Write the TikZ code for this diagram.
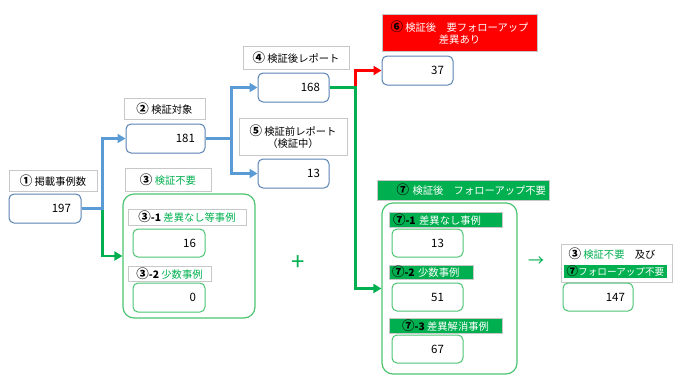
\documentclass[tikz,border=0pt]{standalone}
\usepackage{fontspec}
\setmainfont{Noto Sans CJK JP}
\usetikzlibrary{arrows.meta,calc}
\definecolor{lblgray}{HTML}{C8C8C8}
\definecolor{bxblue}{HTML}{5A82B4}
\definecolor{arblue}{HTML}{5B9BD5}
\definecolor{bxgreen}{HTML}{4CC472}
\definecolor{argreen}{HTML}{00B050}
\definecolor{txgreen}{HTML}{00B050}
\definecolor{bnred}{HTML}{FF0000}
\newcommand{\cnum}[1]{{\fontsize{12.5}{12}\selectfont\bfseries #1}}
\newcommand{\cnums}[1]{{\fontsize{11.5}{12}\selectfont\bfseries #1}}
\tikzset{
  lbl/.style={draw=lblgray, fill=white, line width=0.8pt, inner sep=0pt, font=\fontsize{10.3}{12}\selectfont, align=center},
  numbox/.style={rounded corners=5pt, fill=white, line width=1pt, inner sep=0pt, inner xsep=9pt, font=\fontsize{11.5}{13}\selectfont, align=right},
  numblue/.style={numbox, draw=bxblue},
  numgreen/.style={numbox, draw=bxgreen},
  bigbox/.style={draw=bxgreen, line width=1.2pt, rounded corners=11pt, inner sep=0pt},
  gbanner/.style={draw=lblgray, fill=argreen, text=white, line width=0.6pt, inner sep=0pt, font=\fontsize{10.3}{12}\selectfont},
  arb/.style={draw=arblue, line width=3pt, -{Triangle[length=8pt,width=9pt]}},
  arg/.style={draw=argreen, line width=2.6pt, -{Triangle[length=8pt,width=9pt]}},
  arr/.style={draw=bnred, line width=2.6pt, -{Triangle[length=8pt,width=9pt]}},
}
\begin{document}
\begin{tikzpicture}[x=1pt,y=-1pt]
\useasboundingbox (0,0) rectangle (680,389);
% label boxes
\node[lbl, minimum width=88pt, minimum height=21pt] (L1) at (53,180.5) {\cnum{①} 掲載事例数};
\node[lbl, minimum width=81pt, minimum height=21pt] (L2) at (164.5,108.5) {\cnum{②} 検証対象};
\node[lbl, minimum width=86pt, minimum height=23pt] (L3) at (168,179.5) {\cnum{③} \textcolor{txgreen}{検証不要}};
\node[lbl, minimum width=106pt, minimum height=23pt] (L4) at (296,57.5) {\cnum{④} 検証後レポート};
\node[lbl, minimum width=108pt, minimum height=37pt] (L5) at (293,136.5) {\cnum{⑤} 検証前レポート\\（検証中）};
\node[lbl, fill=bnred, text=white, minimum width=155pt, minimum height=37pt] (R6) at (459.5,32.5) {\textcolor{black}{\cnum{⑥}} 検証後　要フォローアップ\\差異あり};
\node[gbanner, minimum width=172pt, minimum height=20pt, text width=166pt, align=right] (G7) at (463,190) {\textcolor{black}{\cnum{⑦}} 検証後　フォローアップ不要};
% number boxes
\node[numblue, minimum width=72pt, minimum height=29pt, text width=52pt] (n197) at (45,208.5) {197};
\node[numblue, minimum width=79pt, minimum height=29pt, text width=59pt] (n181) at (165.5,138.5) {181};
\node[numblue, minimum width=71pt, minimum height=29pt, text width=53pt] (n168) at (293.5,87.5) {168};
\node[numblue, minimum width=71pt, minimum height=29pt, text width=53pt] (n13a) at (293.5,173.5) {13};
\node[numblue, minimum width=71pt, minimum height=29pt, text width=53pt] (n37) at (417.5,70.5) {37};
% group 3
\node[bigbox, minimum width=132pt, minimum height=124pt] (box3) at (189,256) {};
\node[lbl, minimum width=118pt, minimum height=16pt] (L31) at (187,217) {\cnum{③}{\bfseries -1} \textcolor{txgreen}{差異なし等事例}};
\node[numgreen, minimum width=72pt, minimum height=28pt, text width=54pt] (n16) at (169,243) {16};
\node[lbl, minimum width=83pt, minimum height=15pt] (L32) at (169.5,273.5) {\cnum{③}{\bfseries -2} \textcolor{txgreen}{少数事例}};
\node[numgreen, minimum width=72pt, minimum height=29pt, text width=54pt] (n0) at (169,297.5) {0};
% group 7
\node[bigbox, minimum width=135pt, minimum height=171pt] (box7) at (449.5,288.5) {};
\node[gbanner, minimum width=113pt, minimum height=15pt, text width=105pt, align=left] (G71) at (445.5,219.5) {\textcolor{black}{\cnum{⑦}\bfseries -1} 差異なし事例};
\node[numgreen, minimum width=71pt, minimum height=28pt, text width=33pt, inner xsep=19pt] (n13b) at (427.5,243) {13};
\node[gbanner, minimum width=84pt, minimum height=14pt, text width=78pt, align=left] (G72) at (431,272) {\textcolor{black}{\cnum{⑦}\bfseries -2} 少数事例};
\node[numgreen, minimum width=71pt, minimum height=28pt, text width=33pt, inner xsep=19pt] (n51) at (427.5,297) {51};
\node[gbanner, minimum width=113pt, minimum height=15pt, align=center] (G73) at (445.5,325.5) {\textcolor{black}{\cnum{⑦}\bfseries -3} 差異解消事例};
\node[numgreen, minimum width=71pt, minimum height=28pt, text width=33pt, inner xsep=19pt] (n67) at (427.5,349) {67};
% result
\node[lbl, minimum width=111pt, minimum height=38pt] (L8) at (616.5,263) {};
\node[inner sep=0pt, font=\fontsize{10.3}{12}\selectfont] (t8a) at (612,254) {\cnum{③} \textcolor{txgreen}{検証不要}　及び};
\node[fill=argreen, text=white, inner sep=0pt, minimum width=103pt, minimum height=13pt, font=\fontsize{9.6}{12}\selectfont] (t8b) at (615.5,271.5) {\textcolor{black}{\cnums{⑦}}フォローアップ不要};
\node[numgreen, minimum width=70pt, minimum height=28pt, text width=54pt, inner xsep=8pt] (n147) at (598,297) {147};
% symbols
\node[text=argreen, inner sep=0pt, font=\fontsize{24}{24}\selectfont] (plus) at (298,263) {+};
\node[text=argreen, inner sep=0pt, font=\fontsize{16}{16}\selectfont] (arrowsym) at (536,262) {→};
% connectors
\coordinate (j1) at ($(n197.east)+(21,0)$);
\coordinate (j2) at ($(n181.east)+(26,0)$);
\coordinate (j3) at ($(n168.east)+(26,0)$);
\draw[arg] (n197.east) -- (j1) |- (box3.west);
\draw[arb] (n197.east) -- (j1) |- (n181.west);
\draw[arb] (n181.east) -- (j2) |- (n168.west);
\draw[arb] (n181.east) -- (j2) |- (n13a.west);
\draw[arr] (j3) |- (n37.west);
\draw[arg] (n168.east) -- (j3) |- (box7.west);
\end{tikzpicture}
\end{document}
